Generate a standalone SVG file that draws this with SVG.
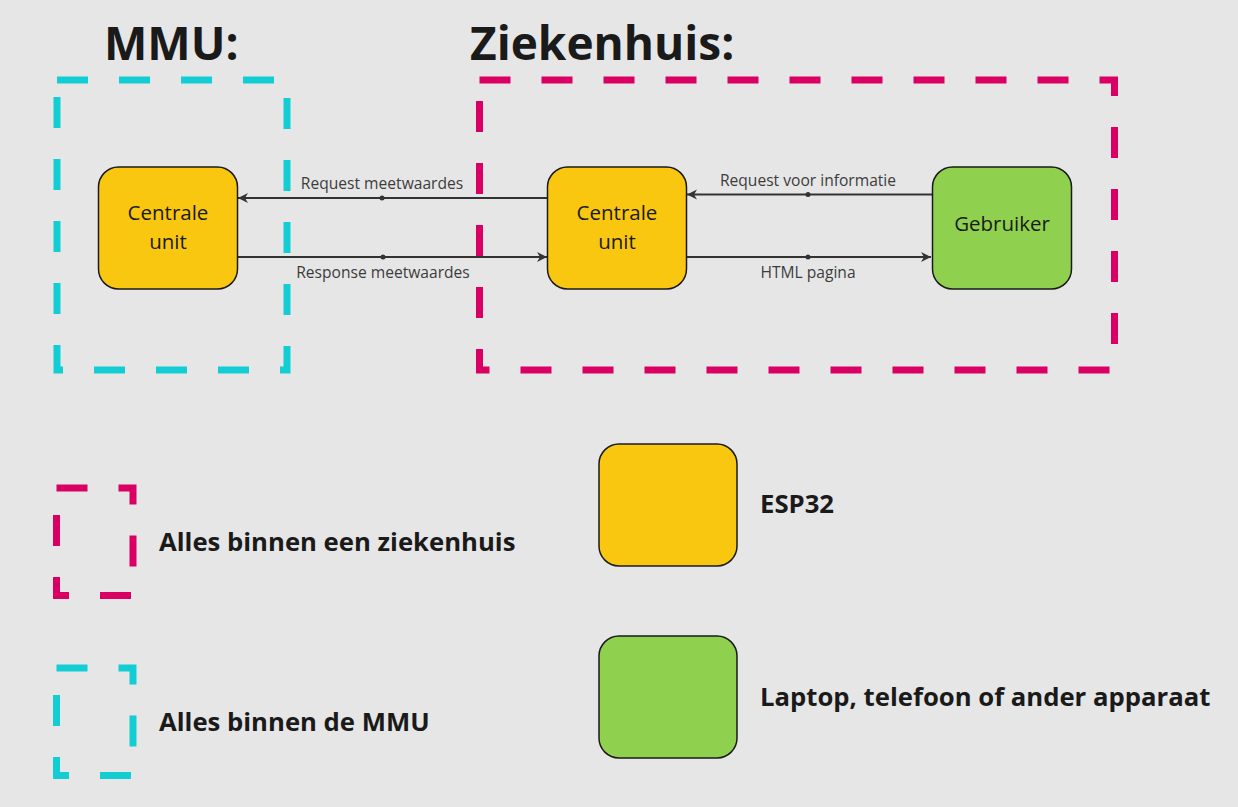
<svg xmlns="http://www.w3.org/2000/svg" width="1238" height="807" viewBox="0 0 1238 807">
<defs>
<style>
.bg{fill:#e6e6e6}
.title{font-family:"Open Sans","Liberation Sans",sans-serif;font-weight:700;font-size:46px;fill:#1a1a1a}
.legend{font-family:"Open Sans","Liberation Sans",sans-serif;font-weight:700;font-size:25.7px;fill:#1a1a1a}
.node{stroke:#1a1a1a;stroke-width:1.5}
.yellow{fill:#fac710}
.green{fill:#8fd14f}
.ntext{font-family:"Open Sans","Liberation Sans",sans-serif;font-size:20.5px;fill:#1a1a1a;text-anchor:middle}
.lbl{font-family:"Open Sans","Liberation Sans",sans-serif;font-size:15.6px;fill:#3c3c3c;text-anchor:middle}
.edge{stroke:#333333;stroke-width:2;fill:none}
.dot{fill:#333333}
.dash{fill:none;stroke-width:7;stroke-dasharray:31 31}
.cyan{stroke:#12cdd4}
.magenta{stroke:#da0063}
</style>
<marker id="arr" viewBox="0 0 12 12" refX="11" refY="6" markerWidth="12" markerHeight="12" markerUnits="userSpaceOnUse" orient="auto">
<path d="M1,1 L11,6 L1,11 L4,6 Z" fill="#333333"/>
</marker>
</defs>
<rect class="bg" x="0" y="0" width="1238" height="807"/>

<g id="mmu-zone">
<rect class="dash cyan" x="57" y="80" width="230" height="290"/>
<text class="title" x="104" y="60">MMU:</text>
</g>
<g id="ziekenhuis-zone">
<rect class="dash magenta" x="479.5" y="80" width="635" height="290"/>
<text class="title" x="470" y="60">Ziekenhuis:</text>
</g>

<g id="connectors">
<line class="edge" x1="548" y1="198" x2="238" y2="198" marker-end="url(#arr)"/>
<circle class="dot" cx="382" cy="198" r="2.5"/>
<text class="lbl" x="382" y="189">Request meetwaardes</text>
<line class="edge" x1="237" y1="257" x2="547" y2="257" marker-end="url(#arr)"/>
<circle class="dot" cx="383" cy="257" r="2.5"/>
<text class="lbl" x="383" y="278">Response meetwaardes</text>
<line class="edge" x1="932" y1="194.5" x2="687" y2="194.5" marker-end="url(#arr)"/>
<circle class="dot" cx="808" cy="194.5" r="2.5"/>
<text class="lbl" x="808" y="186">Request voor informatie</text>
<line class="edge" x1="686" y1="257" x2="931" y2="257" marker-end="url(#arr)"/>
<circle class="dot" cx="808" cy="257" r="2.5"/>
<text class="lbl" x="808" y="278">HTML pagina</text>
</g>

<g id="node-centrale-mmu">
<rect class="node yellow" x="98.5" y="167" width="139" height="122" rx="20"/>
<text class="ntext" x="168" y="220">Centrale</text>
<text class="ntext" x="168" y="249">unit</text>
</g>
<g id="node-centrale-zh">
<rect class="node yellow" x="547.5" y="167" width="139" height="122" rx="20"/>
<text class="ntext" x="617" y="220">Centrale</text>
<text class="ntext" x="617" y="249">unit</text>
</g>
<g id="node-gebruiker">
<rect class="node green" x="932.5" y="167" width="139" height="122" rx="20"/>
<text class="ntext" x="1002" y="231">Gebruiker</text>
</g>

<g id="legend-ziekenhuis">
<rect class="dash magenta" x="56.5" y="488" width="76.5" height="107.5"/>
<text class="legend" x="159" y="551">Alles binnen een ziekenhuis</text>
</g>
<g id="legend-mmu">
<rect class="dash cyan" x="56.5" y="668" width="76.5" height="107.5"/>
<text class="legend" x="159" y="731">Alles binnen de MMU</text>
</g>
<g id="legend-esp32">
<rect class="node yellow" x="599" y="444" width="138" height="122" rx="20"/>
<text class="legend" x="760" y="513">ESP32</text>
</g>
<g id="legend-apparaat">
<rect class="node green" x="599" y="636" width="138" height="122" rx="20"/>
<text class="legend" x="760" y="706">Laptop, telefoon of ander apparaat</text>
</g>
</svg>
